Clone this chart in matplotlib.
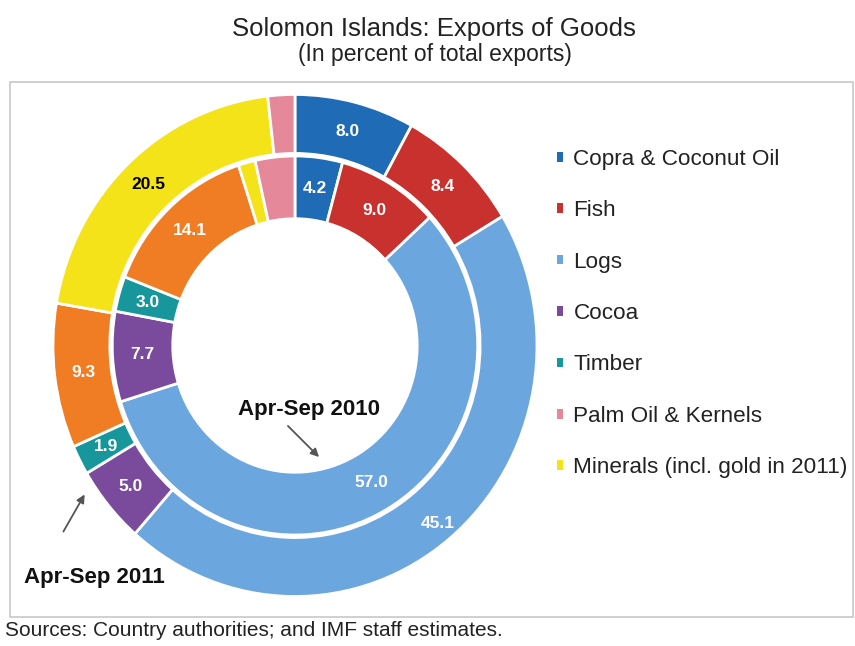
import matplotlib
matplotlib.use("Agg")
import matplotlib.pyplot as plt
from matplotlib.patches import Patch, Rectangle, FancyArrowPatch
import numpy as np

plt.rcParams['font.family'] = ['Liberation Sans', 'DejaVu Sans']

categories = ["Copra & Coconut Oil", "Fish", "Logs", "Cocoa", "Timber",
              "Other", "Minerals (incl. gold in 2011)", "Palm Oil & Kernels"]
legend_order = ["Copra & Coconut Oil", "Fish", "Logs", "Cocoa", "Timber",
                "Palm Oil & Kernels", "Minerals (incl. gold in 2011)"]
values_2011 = [8.0, 8.4, 45.1, 5.0, 1.9, 9.3, 20.5, 1.8]
values_2010 = [4.2, 9.0, 57.0, 7.7, 3.0, 14.1, 1.5, 3.5]
labels_2011 = ["8.0", "8.4", "45.1", "5.0", "1.9", "9.3", "20.5", ""]
labels_2010 = ["4.2", "9.0", "57.0", "7.7", "3.0", "14.1", "", ""]

colors = {
    "Copra & Coconut Oil": "#1F6BB5",
    "Fish": "#C8312E",
    "Logs": "#6CA6DF",
    "Cocoa": "#7A4B9C",
    "Timber": "#17979B",
    "Other": "#F07D23",
    "Minerals (incl. gold in 2011)": "#F5E31A",
    "Palm Oil & Kernels": "#E5899A",
}
cols = [colors[c] for c in categories]

fig = plt.figure(figsize=(8.55, 6.46), dpi=100)
fig.patch.set_facecolor("white")

# frame
fig.add_artist(Rectangle((10 / 855, 1 - 617 / 646), 843 / 855, (617 - 82) / 646,
                         transform=fig.transFigure, fill=False,
                         edgecolor="#c8c8c8", linewidth=1.2))

ax = fig.add_axes([0.0478, 0.0572, 0.5944, 0.8160])

wp = dict(edgecolor="white", linewidth=2)
outer, outer_t = ax.pie(values_2011, radius=1.0, colors=cols, startangle=90,
                        counterclock=False, labels=labels_2011, labeldistance=0.88,
                        wedgeprops=dict(width=0.235, **wp))
inner, inner_t = ax.pie(values_2010, radius=0.755, colors=cols, startangle=90,
                        counterclock=False, labels=labels_2010, labeldistance=0.835,
                        wedgeprops=dict(width=0.25, **wp))
for t in list(outer_t) + list(inner_t):
    t.set_ha("center")
    t.set_va("center")
    t.set_fontsize(12.5)
    t.set_fontweight("bold")
    t.set_color("white")
for t, lab in zip(outer_t, labels_2011):
    if lab == "20.5":
        t.set_color("black")
    if lab == "45.1":
        x, y = t.get_position()
        t.set_position((x * 1.05, y * 1.05))

ax.set_aspect("auto")
ax.set_xlim(-1.05, 1.05)
ax.set_ylim(-1.05, 1.05)
ax.axis("off")

# titles
fig.text(434 / 855, 1 - 29 / 646, "Solomon Islands: Exports of Goods",
         ha="center", va="center", fontsize=18.5, color="#222222")
fig.text(435 / 855, 1 - 54 / 646, "(In percent of total exports)",
         ha="center", va="center", fontsize=16.5, color="#222222")
fig.text(5 / 855, 1 - 631 / 646, "Sources: Country authorities; and IMF staff estimates.",
         ha="left", va="center", fontsize=15, color="#222222")

# ring annotations
fig.text(309 / 855, 1 - 409 / 646, "Apr-Sep 2010", ha="center", va="center",
         fontsize=16, fontweight="bold", color="#111111")
fig.text(94 / 855, 1 - 577 / 646, "Apr-Sep 2011", ha="center", va="center",
         fontsize=16, fontweight="bold", color="#111111")
fig.add_artist(FancyArrowPatch(
    (286 / 855, 1 - 424 / 646), (321 / 855, 1 - 459 / 646),
    transform=fig.transFigure, arrowstyle="-|>", mutation_scale=12,
    color="#555555", linewidth=1.3))
fig.add_artist(FancyArrowPatch(
    (62 / 855, 1 - 534 / 646), (86 / 855, 1 - 492 / 646),
    transform=fig.transFigure, arrowstyle="-|>", mutation_scale=12,
    color="#555555", linewidth=1.3))

# legend
handles = [Patch(facecolor=colors[c], edgecolor="none", label=c) for c in legend_order]
fig.legend(handles=handles, loc="upper left",
           bbox_to_anchor=(557 / 855, 1 - 149 / 646), frameon=False,
           fontsize=16.2, handlelength=0.28, handleheight=0.28,
           handletextpad=0.45, labelspacing=1.35, borderpad=0, borderaxespad=0,
           labelcolor="#222222")

fig.savefig("out.png", dpi=100, facecolor="white")
